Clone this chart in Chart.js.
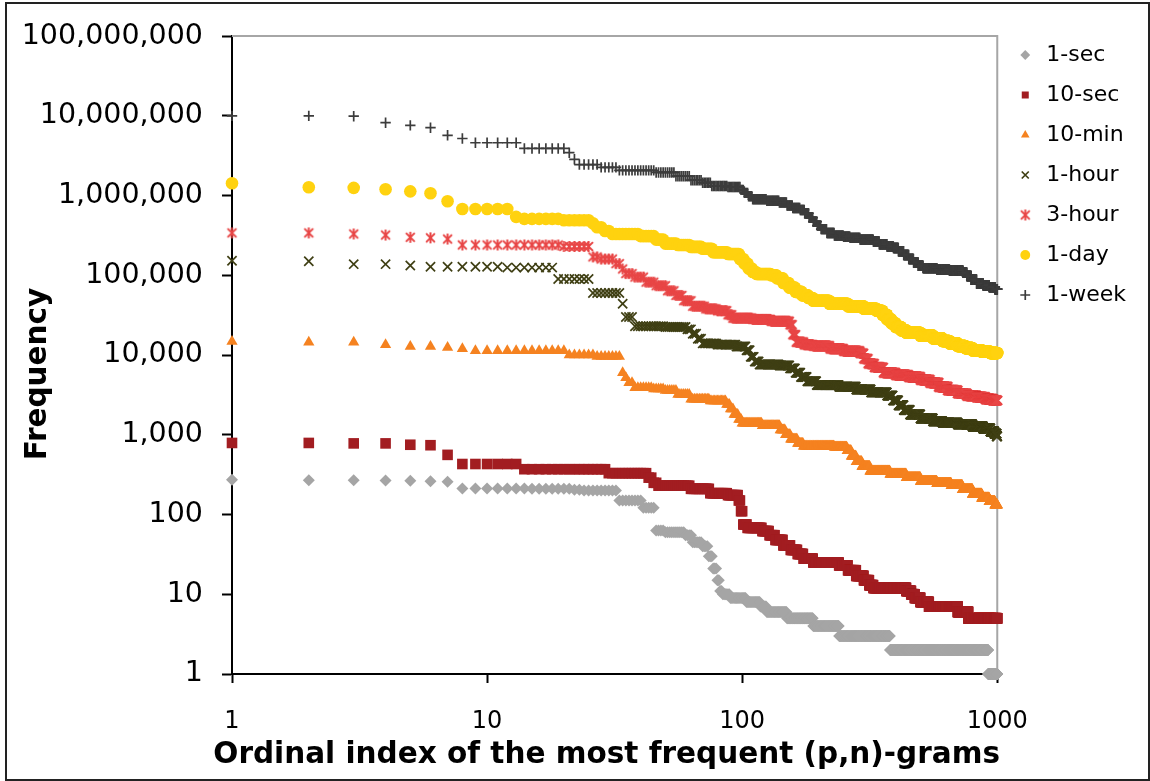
<!DOCTYPE html>
<html>
<head>
<meta charset="utf-8">
<script src="https://cdn.jsdelivr.net/npm/chart.js@4.4.1/dist/chart.umd.min.js"></script>
<style>
  body { margin: 0; background: #fff; }
  #wrap { position: relative; width: 1150px; height: 781px; }
  #frame { position: absolute; left: 5px; top: 2px; width: 1141px; height: 775px; border: 2px solid #222; pointer-events: none; }
</style>
</head>
<body>
<div id="wrap">
  <canvas id="mycanvas" width="1150" height="781"></canvas>
  <div id="frame"></div>
</div>
<script>
// rank at which each run of equal frequency starts, and that frequency
var secRanks = [1, 2, 4, 5, 6, 7, 8, 15, 22, 24, 33, 41, 46, 50, 60, 64, 70, 74, 77, 80, 82, 84, 90, 104, 118, 125, 150, 190, 240, 380, 921];
var secFreq  = [272, 270, 268, 265, 262, 258, 212, 210, 205, 200, 150, 122, 63, 60, 55, 45, 40, 30, 21, 15, 11, 10, 9, 8, 7, 6, 5, 4, 3, 2, 1];

var tenSecRanks = [1, 3, 5, 6, 7, 8, 14, 30, 43, 45, 47, 63, 75, 88, 97, 99, 101, 105, 120, 128, 135, 145, 155, 165, 174, 190, 240, 260, 280, 300, 315, 327, 440, 460, 475, 500, 540, 700, 770];
var tenSecFreq  = [790, 780, 750, 740, 560, 430, 370, 330, 290, 250, 230, 210, 185, 175, 150, 110, 75, 68, 62, 55, 48, 41, 36, 32, 28, 25, 23, 20, 17, 15, 13, 12, 11, 10, 9, 8, 7, 6, 5];

var tenMinRanks = [1, 2, 4, 5, 7, 8, 9, 21, 27, 34, 35, 36, 38, 45, 50, 56, 63, 75, 87, 90, 93, 97, 100, 120, 141, 148, 155, 165, 174, 230, 258, 268, 280, 295, 317, 380, 440, 500, 580, 660, 730, 800, 870, 930, 980];
var tenMinFreq  = [14800, 14500, 13500, 12800, 12400, 12000, 11300, 10000, 9600, 6000, 5200, 4500, 3900, 3750, 3600, 3200, 2800, 2650, 2400, 2100, 1800, 1550, 1400, 1300, 1150, 1000, 880, 780, 720, 700, 630, 540, 460, 400, 350, 320, 290, 260, 245, 230, 205, 180, 160, 145, 132];

var hourRanks = [1, 2, 3, 5, 6, 12, 19, 26, 34, 35, 38, 50, 61, 64, 67, 70, 80, 95, 104, 108, 112, 117, 140, 154, 162, 170, 180, 196, 240, 280, 320, 370, 390, 410, 430, 455, 500, 560, 610, 700, 800, 880, 940, 975, 995];
var hourFreq  = [152000, 150000, 138000, 133000, 128000, 125000, 90000, 60000, 44000, 30000, 23000, 22500, 21000, 18500, 16000, 14000, 13500, 12800, 11500, 9500, 8300, 7600, 7400, 6800, 6000, 5300, 4700, 4200, 4000, 3700, 3400, 3100, 2700, 2350, 2050, 1800, 1600, 1480, 1420, 1350, 1270, 1200, 1100, 1030, 960];

var threeHourRanks = [1, 3, 4, 5, 6, 7, 8, 20, 26, 28, 32, 34, 35, 38, 42, 46, 51, 55, 59, 64, 72, 80, 88, 92, 110, 130, 154, 158, 163, 175, 190, 221, 250, 290, 300, 312, 330, 358, 400, 450, 500, 545, 590, 640, 700, 760, 830, 900, 960];
var threeHourFreq  = [340000, 330000, 320000, 300000, 295000, 285000, 240000, 230000, 170000, 160000, 140000, 120000, 105000, 95000, 82000, 74000, 64000, 56000, 48000, 41000, 38000, 36000, 32000, 29000, 28000, 26500, 24000, 18000, 14500, 13500, 13000, 12000, 11200, 10500, 9000, 7800, 7000, 6000, 5600, 5300, 4900, 4500, 4000, 3600, 3300, 3100, 2950, 2800, 2700];

var dayRanks = [1, 2, 3, 4, 5, 6, 7, 8, 13, 14, 20, 26, 27, 29, 31, 40, 46, 50, 56, 63, 70, 77, 88, 98, 102, 106, 110, 114, 130, 137, 145, 153, 162, 172, 182, 190, 220, 260, 300, 337, 355, 370, 385, 400, 420, 440, 500, 560, 610, 650, 700, 750, 800, 870, 940];
var dayFreq  = [1430000, 1270000, 1250000, 1200000, 1130000, 1070000, 850000, 680000, 540000, 510000, 490000, 450000, 400000, 360000, 330000, 310000, 280000, 250000, 240000, 227000, 215000, 195000, 185000, 160000, 140000, 122000, 110000, 104000, 100000, 92000, 80000, 70000, 62000, 56000, 52000, 48000, 44000, 41000, 38000, 36000, 32000, 28000, 25000, 22500, 20500, 19000, 17500, 16200, 15000, 14000, 13000, 12200, 11500, 11000, 10600];

var weekRanks = [1, 3, 4, 5, 6, 7, 8, 9, 14, 21, 22, 23, 28, 33, 46, 55, 63, 70, 76, 88, 99, 102, 106, 110, 125, 140, 150, 158, 169, 176, 183, 190, 197, 204, 215, 230, 250, 265, 290, 327, 345, 370, 392, 410, 430, 450, 470, 490, 512, 580, 650, 734, 760, 790, 830, 880, 930, 980];
var weekFreq  = [10000000, 9900000, 8200000, 7600000, 7100000, 5700000, 5200000, 4600000, 3900000, 3450000, 2850000, 2450000, 2260000, 2070000, 1950000, 1750000, 1560000, 1450000, 1320000, 1280000, 1180000, 1080000, 980000, 900000, 860000, 820000, 750000, 700000, 660000, 600000, 530000, 470000, 420000, 380000, 340000, 315000, 305000, 295000, 280000, 265000, 245000, 230000, 220000, 200000, 180000, 160000, 145000, 132000, 123000, 118000, 114000, 108000, 98000, 88000, 79000, 75000, 71000, 67000];

var xTicks = [1, 10, 100, 1000];
var yTicks = [1, 10, 100, 1000, 10000, 100000, 1000000, 10000000, 100000000];
var xTitle = 'Ordinal index of the most frequent (p,n)-grams';
var yTitle = 'Frequency';

function expand(ranks, freq) {
  var pts = [];
  var k = 0;
  for (var r = 1; r <= 1000; r++) {
    while (k + 1 < ranks.length && ranks[k + 1] <= r) k++;
    pts.push({x: r, y: freq[k]});
  }
  return pts;
}

function asterisk(color, size) {
  var c = document.createElement('canvas');
  c.width = size; c.height = size;
  var g = c.getContext('2d');
  var m = size / 2, a = size / 2 - 1;
  g.strokeStyle = color;
  g.lineWidth = 2;
  g.beginPath();
  g.moveTo(m - a * 0.8, m - a * 0.8); g.lineTo(m + a * 0.8, m + a * 0.8);
  g.moveTo(m + a * 0.8, m - a * 0.8); g.lineTo(m - a * 0.8, m + a * 0.8);
  g.moveTo(m, m - a); g.lineTo(m, m + a);
  g.stroke();
  return c;
}

function series(label, ranks, freq, color, style, radius, border) {
  return {
    label: label,
    data: expand(ranks, freq),
    pointStyle: style,
    pointRadius: radius,
    pointHoverRadius: radius,
    backgroundColor: color,
    borderColor: color,
    pointBorderWidth: border,
    clip: false
  };
}

var font = '"DejaVu Sans", Verdana, sans-serif';

var framePlugin = {
  id: 'framePlugin',
  afterLayout: function(chart) {
    chart.legend.top -= 7;
  },
  beforeDatasetsDraw: function(chart) {
    var a = chart.chartArea, ctx = chart.ctx;
    ctx.save();
    ctx.strokeStyle = '#a6a6a6';
    ctx.lineWidth = 2;
    ctx.beginPath();
    ctx.moveTo(a.left, a.top);
    ctx.lineTo(a.right, a.top);
    ctx.lineTo(a.right, a.bottom);
    ctx.stroke();
    ctx.restore();
  },
  afterDraw: function(chart) {
    var a = chart.chartArea, ctx = chart.ctx;
    ctx.save();
    ctx.fillStyle = '#000';
    ctx.font = 'bold 29.5px ' + font;
    ctx.textAlign = 'center';
    ctx.textBaseline = 'alphabetic';
    ctx.fillText(xTitle, (a.left + a.right) / 2 - 8, a.bottom + 89);
    ctx.translate(a.left - 186, 374);
    ctx.rotate(-Math.PI / 2);
    ctx.fillText(yTitle, 0, 0);
    ctx.restore();
  }
};

var ctx = document.getElementById('mycanvas');
var chart = new Chart(ctx, {
  type: 'scatter',
  data: {
    datasets: [
      series('1-sec', secRanks, secFreq, '#a5a5a5', 'rectRot', 6, 0),
      series('10-sec', tenSecRanks, tenSecFreq, '#a21d21', 'rect', 7.5, 0),
      series('10-min', tenMinRanks, tenMinFreq, '#f58220', 'triangle', 6.5, 0),
      series('1-hour', hourRanks, hourFreq, '#3f3f14', 'crossRot', 6.5, 1.7),
      series('3-hour', threeHourRanks, threeHourFreq, '#e84646', asterisk('#e84646', 13), 6.5, 0),
      series('1-day', dayRanks, dayFreq, '#ffd20f', 'circle', 6.3, 0),
      series('1-week', weekRanks, weekFreq, '#3c3c3c', 'cross', 5.2, 1.7)
    ]
  },
  options: {
    responsive: false,
    animation: false,
    layout: { padding: { top: 33, left: 0, right: 14, bottom: 0 } },
    scales: {
      x: {
        type: 'logarithmic',
        min: 1,
        max: 1000,
        afterBuildTicks: function(s) { s.ticks = xTicks.map(function(v) { return {value: v}; }); },
        afterFit: function(s) { s.height = 107; },
        ticks: {
          autoSkip: false,
          maxRotation: 0,
          padding: 24,
          color: '#000',
          font: { family: font, size: 24 },
          callback: function(v) { return String(v); }
        },
        grid: { drawOnChartArea: false, tickLength: 9, tickColor: '#000', tickWidth: 2 },
        border: { color: '#000', width: 2 }
      },
      y: {
        type: 'logarithmic',
        min: 1,
        max: 100000000,
        afterBuildTicks: function(s) { s.ticks = yTicks.map(function(v) { return {value: v}; }); },
        afterFit: function(s) { s.width = 232; },
        ticks: {
          autoSkip: false,
          padding: 19,
          color: '#000',
          font: { family: font, size: 28.5 },
          callback: function(v) { return Number(v).toLocaleString('en-US'); }
        },
        grid: { drawOnChartArea: false, tickLength: 10, tickColor: '#000', tickWidth: 2 },
        border: { color: '#000', width: 2 }
      }
    },
    plugins: {
      legend: {
        position: 'right',
        align: 'start',
        labels: {
          usePointStyle: true,
          boxWidth: 20,
          boxHeight: 7,
          padding: 18,
          color: '#000',
          font: { family: font, size: 22 }
        }
      },
      tooltip: { enabled: false }
    }
  },
  plugins: [framePlugin]
});
</script>
</body>
</html>
